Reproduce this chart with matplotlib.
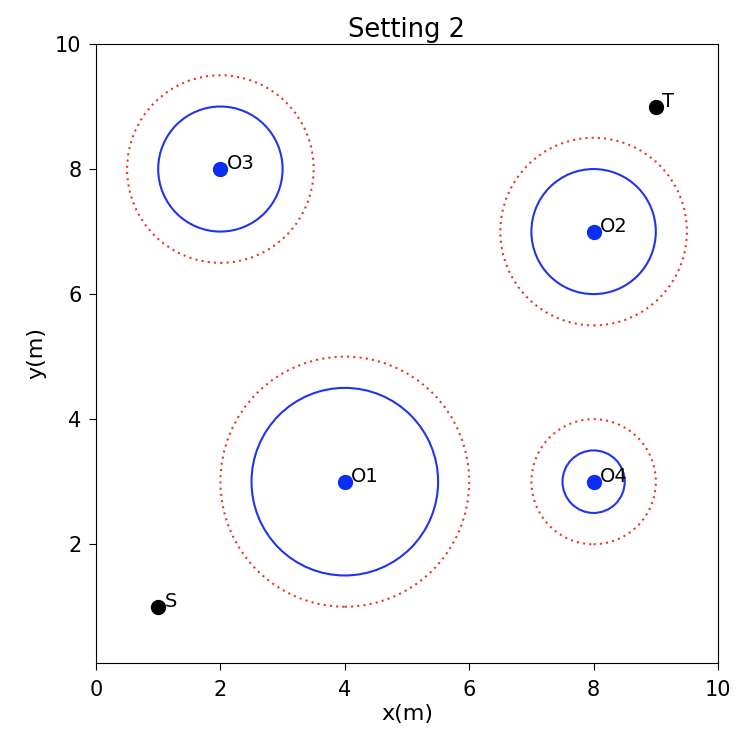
import matplotlib
matplotlib.use("Agg")
import matplotlib.pyplot as plt
from matplotlib.patches import Circle

names = ["O1", "O2", "O3", "O4"]
obs_x = [4, 8, 2, 8]
obs_y = [3, 7, 8, 3]
obs_r = [1.5, 1.0, 1.0, 0.5]
safe_r = [2.0, 1.5, 1.5, 1.0]
start = (1, 1)
target = (9, 9)

fig = plt.figure(figsize=(7.38, 7.32), dpi=100)
ax = fig.add_axes([96/738, 1 - 663/732, 622/738, 619/732])

for n, x, y, r, sr in zip(names, obs_x, obs_y, obs_r, safe_r):
    ax.add_patch(Circle((x, y), r, fill=False, edgecolor="#2233ee", lw=1.5))
    ax.add_patch(Circle((x, y), sr, fill=False, edgecolor="#ee3322", lw=1.5, linestyle=(0, (1, 2))))
    ax.plot(x, y, "o", color="#0a2ef5", markersize=10)
    ax.text(x + 0.1, y, n, fontsize=14)

ax.plot(*start, "o", color="black", markersize=10)
ax.text(start[0] + 0.1, start[1], "S", fontsize=14)
ax.plot(*target, "o", color="black", markersize=10)
ax.text(target[0] + 0.1, target[1], "T", fontsize=14)

ax.set_xlim(0, 10)
ax.set_ylim(0.1, 10)
ax.set_xticks([0, 2, 4, 6, 8, 10])
ax.set_yticks([2, 4, 6, 8, 10])
ax.tick_params(axis="x", labelsize=15, length=5, pad=7)
ax.tick_params(axis="y", labelsize=15, length=5, pad=5.5)
ax.set_xlabel("x(m)", fontsize=16, labelpad=3)
ax.set_ylabel("y(m)", fontsize=16, labelpad=6)
ax.set_title("Setting 2", fontsize=18.5, pad=5)

fig.savefig("out.png", dpi=100)
